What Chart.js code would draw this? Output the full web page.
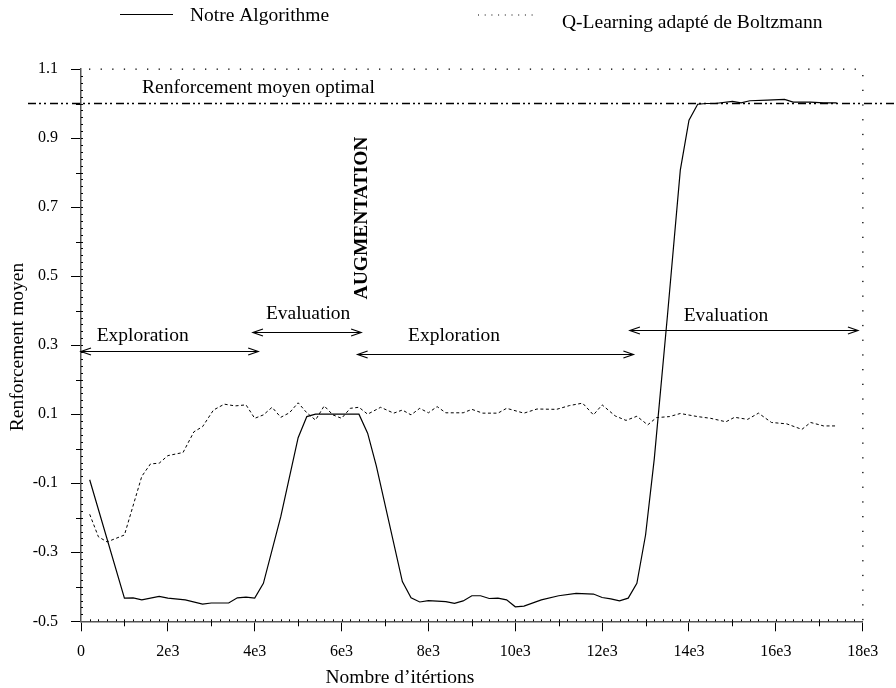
<!DOCTYPE html>
<html>
<head>
<meta charset="utf-8">
<script src="https://cdn.jsdelivr.net/npm/chart.js@4.4.0/dist/chart.umd.min.js"></script>
<style>
  html, body { margin: 0; padding: 0; background: #fff; }
  #wrap { width: 896px; height: 688px; }
</style>
</head>
<body>
<div id="wrap"><canvas id="chart" width="896" height="688"></canvas></div>
<script>
// Notre Algorithme (solid line)
const ourIters = [200, 1000, 1200, 1400, 1800, 2000, 2400, 2800, 3000, 3400, 3600, 3800, 4000, 4200, 4600, 5000, 5200, 5400,
  6400, 6600, 6800, 7400, 7600, 7800, 8000, 8400, 8600, 8800, 9000, 9200, 9400, 9600, 9800, 10000, 10200, 10600, 11000,
  11400, 11800, 12000, 12200, 12400, 12600, 12800, 13000, 13200, 13500, 13800, 14000, 14200, 14400, 14600, 15000, 15200,
  15400, 15800, 16200, 16400, 16800, 17100, 17400];
const ourReward = [-0.09, -0.433, -0.432, -0.438, -0.428, -0.433, -0.438, -0.45, -0.447, -0.447, -0.432, -0.43, -0.433,
  -0.39, -0.197, 0.032, 0.093, 0.1, 0.1, 0.045, -0.05, -0.385, -0.432, -0.444, -0.44, -0.443, -0.448, -0.441, -0.426,
  -0.426, -0.434, -0.433, -0.438, -0.458, -0.456, -0.438, -0.426, -0.419, -0.421, -0.431, -0.435, -0.441, -0.433, -0.39,
  -0.25, -0.03, 0.38, 0.807, 0.952, 0.998, 1.0, 1.0, 1.006, 1.002, 1.008, 1.01, 1.012, 1.004, 1.004, 1.002, 1.002];

// Q-Learning adapté de Boltzmann (dashed line)
const qlIters = [200, 400, 600, 1000, 1400, 1600, 1800, 2000, 2350, 2600, 2800, 3050, 3300, 3550, 3800, 4000, 4200, 4400,
  4600, 4800, 5000, 5200, 5400, 5600, 5800, 6000, 6200, 6400, 6600, 6900, 7200, 7400, 7600, 7800, 8000, 8200, 8400, 8800,
  9000, 9250, 9600, 9800, 10200, 10500, 10950, 11250, 11550, 11800, 12000, 12300, 12550, 12800, 13050, 13250, 13550,
  13800, 14200, 14500, 14850, 15050, 15350, 15600, 15900, 16250, 16600, 16800, 17100, 17400];
const qlReward = [-0.19, -0.255, -0.27, -0.25, -0.08, -0.044, -0.042, -0.02, -0.011, 0.049, 0.064, 0.112, 0.129, 0.124,
  0.127, 0.088, 0.098, 0.12, 0.091, 0.104, 0.133, 0.104, 0.083, 0.124, 0.098, 0.088, 0.117, 0.12, 0.1, 0.12, 0.103, 0.112,
  0.098, 0.117, 0.104, 0.122, 0.104, 0.104, 0.114, 0.103, 0.103, 0.117, 0.103, 0.115, 0.114, 0.125, 0.132, 0.098, 0.127,
  0.095, 0.082, 0.094, 0.069, 0.09, 0.093, 0.102, 0.093, 0.088, 0.078, 0.091, 0.085, 0.103, 0.076, 0.072, 0.056, 0.076,
  0.066, 0.066];

const xTicks = [0, 2000, 4000, 6000, 8000, 10000, 12000, 14000, 16000, 18000];
const yTicks = [-0.5, -0.3, -0.1, 0.1, 0.3, 0.5, 0.7, 0.9, 1.1];
const optimalReward = 1.0;

// phases marked with double arrows
const phaseNames = ['Exploration', 'Evaluation', 'Exploration', 'Evaluation'];
const phaseFrom = [0, 3960, 6370, 12640];
const phaseTo = [4080, 6450, 12720, 17890];
const phaseLevel = [0.283, 0.338, 0.274, 0.344];
const phaseLabelX = [1420, 5230, 8590, 14850];
const phaseLabelLevel = [0.327, 0.39, 0.327, 0.384];

const SERIF = '"Liberation Serif", "Times New Roman", serif';

function arrowHead(ctx, x, y, dir) {
  ctx.beginPath();
  ctx.moveTo(x - dir * 10, y - 3.5);
  ctx.lineTo(x, y);
  ctx.lineTo(x - dir * 10, y + 3.5);
  ctx.stroke();
}

const decorations = {
  id: 'decorations',
  afterDatasetsDraw(chart) {
    const { ctx, chartArea: a, scales: { x, y } } = chart;
    ctx.save();
    ctx.fillStyle = '#000';
    ctx.strokeStyle = '#000';

    // dotted frame top and right
    for (let px = a.left + 8; px < a.right - 2; px += 11.6) ctx.fillRect(px, a.top - 0.5, 1.3, 1.3);
    for (let py = a.top + 6; py < a.bottom - 2; py += 14.7) ctx.fillRect(a.right - 0.5, py, 1.3, 1.3);

    // minor ticks
    ctx.lineWidth = 1;
    ctx.beginPath();
    for (let v = 1000; v < 18000; v += 2000) {
      const px = Math.round(x.getPixelForValue(v)) + 0.5;
      ctx.moveTo(px, a.bottom); ctx.lineTo(px, a.bottom + 5);
    }
    for (let v = 200; v < 18000; v += 200) {
      const px = Math.round(x.getPixelForValue(v)) + 0.5;
      ctx.moveTo(px, a.bottom); ctx.lineTo(px, a.bottom - 2);
    }
    for (let k = 0; k < 8; k++) {
      const py = Math.round(y.getPixelForValue(-0.4 + k * 0.2)) + 0.5;
      ctx.moveTo(a.left, py); ctx.lineTo(a.left - 5, py);
    }
    for (let k = 1; k < 80; k++) {
      const py = Math.round(y.getPixelForValue(-0.5 + k * 0.02)) + 0.5;
      ctx.moveTo(a.left, py); ctx.lineTo(a.left + 2, py);
    }
    ctx.stroke();

    // optimal reward line
    const yOpt = y.getPixelForValue(optimalReward);
    ctx.lineWidth = 1.7;
    ctx.setLineDash([8, 3, 2, 3, 2, 4]);
    ctx.beginPath();
    ctx.moveTo(28, yOpt); ctx.lineTo(chart.width, yOpt);
    ctx.stroke();
    ctx.setLineDash([]);

    ctx.font = '19.5px ' + SERIF;
    ctx.textBaseline = 'middle';
    ctx.textAlign = 'left';
    ctx.fillText('Renforcement moyen optimal', 142, 88);

    // phase arrows
    ctx.lineWidth = 1.2;
    phaseNames.forEach((name, i) => {
      const x0 = x.getPixelForValue(phaseFrom[i]);
      const x1 = x.getPixelForValue(phaseTo[i]);
      const py = Math.round(y.getPixelForValue(phaseLevel[i])) + 0.5;
      ctx.beginPath();
      ctx.moveTo(x0, py); ctx.lineTo(x1, py);
      ctx.stroke();
      arrowHead(ctx, x0, py, -1);
      arrowHead(ctx, x1, py, 1);
      ctx.textAlign = 'center';
      ctx.fillText(name, x.getPixelForValue(phaseLabelX[i]), y.getPixelForValue(phaseLabelLevel[i]));
    });

    // AUGMENTATION (vertical, bold)
    ctx.save();
    ctx.translate(362, 218);
    ctx.rotate(-Math.PI / 2);
    ctx.font = 'bold 19.5px ' + SERIF;
    ctx.textAlign = 'center';
    ctx.fillText('AUGMENTATION', 0, 0);
    ctx.restore();

    // legend
    ctx.lineWidth = 1.2;
    ctx.beginPath();
    ctx.moveTo(120, 14.5); ctx.lineTo(173, 14.5);
    ctx.stroke();
    for (let px = 478; px <= 538; px += 6.7) ctx.fillRect(px, 14.5, 1, 1);
    ctx.textAlign = 'left';
    ctx.fillText('Notre Algorithme', 190, 16);
    ctx.fillText('Q-Learning adapté de Boltzmann', 562, 23);

    // axis titles
    ctx.textAlign = 'center';
    ctx.fillText('Nombre d\u2019itértions', 400, 678);
    ctx.save();
    ctx.translate(18, 347);
    ctx.rotate(-Math.PI / 2);
    ctx.fillText('Renforcement moyen', 0, 0);
    ctx.restore();

    ctx.restore();
  }
};

new Chart(document.getElementById('chart'), {
  type: 'line',
  data: {
    datasets: [
      {
        label: 'Notre Algorithme',
        data: ourIters.map((it, i) => ({ x: it, y: ourReward[i] })),
        borderColor: '#000',
        borderWidth: 1.2,
        pointRadius: 0,
        tension: 0
      },
      {
        label: 'Q-Learning adapté de Boltzmann',
        data: qlIters.map((it, i) => ({ x: it, y: qlReward[i] })),
        borderColor: '#000',
        borderWidth: 1,
        borderDash: [3, 2.5],
        pointRadius: 0,
        tension: 0
      }
    ]
  },
  options: {
    responsive: false,
    animation: false,
    events: [],
    layout: { padding: { left: 0, top: 69, right: 33.3, bottom: 0 } },
    plugins: { legend: { display: false }, tooltip: { enabled: false } },
    scales: {
      x: {
        type: 'linear',
        min: 0,
        max: 18000,
        afterBuildTicks: s => { s.ticks = xTicks.map(v => ({ value: v })); },
        afterFit: s => { s.height = 66.7; },
        ticks: {
          autoSkip: false,
          maxRotation: 0,
          padding: 11,
          color: '#000',
          font: { family: SERIF, size: 16 },
          callback: v => v === 0 ? '0' : (v / 1000) + 'e3'
        },
        grid: { drawOnChartArea: false, tickLength: 10, color: '#000', lineWidth: 1 },
        border: { display: true, color: '#555', width: 1.5 }
      },
      y: {
        type: 'linear',
        min: -0.5,
        max: 1.1,
        afterBuildTicks: s => { s.ticks = yTicks.map(v => ({ value: v })); },
        afterFit: s => { s.width = 81; },
        ticks: {
          padding: 13,
          color: '#000',
          font: { family: SERIF, size: 16 },
          callback: v => v.toFixed(1)
        },
        grid: { drawOnChartArea: false, tickLength: 10, color: '#000', lineWidth: 1 },
        border: { display: true, color: '#555', width: 1.5 }
      }
    }
  },
  plugins: [decorations]
});
</script>
</body>
</html>
